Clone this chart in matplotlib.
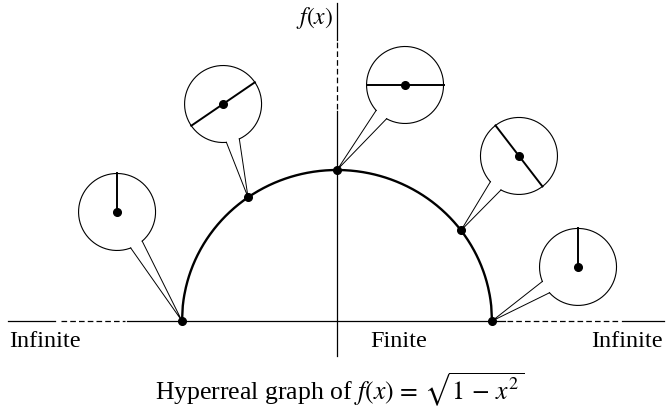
import numpy as np
import matplotlib
matplotlib.use("Agg")
import matplotlib.pyplot as plt

plt.rcParams["font.family"] = ["Liberation Serif", "DejaVu Serif"]
plt.rcParams["mathtext.fontset"] = "stix"

# marked points on the curve f(x) = sqrt(1 - x^2)
marked_x = [-1.0, -0.574, 0.0, 0.8, 1.0]
# where each magnifier bubble sits (data units)
bubble_x = [-1.419, -0.735, 0.439, 1.174, 1.555]
bubble_y = [0.722, 1.437, 1.563, 1.093, 0.358]
axis_labels = ["Infinite", "Finite", "Infinite"]
caption = r"Hyperreal graph of $f(x)\,=\,\sqrt{1\,-\,x^2}$"

# pixel scale of one data unit (x and y)
sx, sy = 155.0, 151.0
bubble_r = 38.5  # pixels
gap = np.radians(10)

fig = plt.figure(figsize=(6.66, 4.14), dpi=100)
ax = fig.add_axes([0, 0, 1, 1])
ax.set_xlim(-337 / sx, (666 - 337) / sx)
ax.set_ylim((322 - 414) / sy, 322 / sy)
ax.axis("off")

# horizontal axis: solid / dashed / solid pieces
axk = dict(color="black", lw=0.9)
dash = (0, (4.5, 2.5))
ax.plot([(8 - 337) / sx, (55 - 337) / sx], [0, 0], **axk)
ax.plot([(61 - 337) / sx, (125 - 337) / sx], [0, 0], ls=dash, **axk)
ax.plot([(127 - 337) / sx, (505 - 337) / sx], [0, 0], **axk)
ax.plot([(507 - 337) / sx, (620 - 337) / sx], [0, 0], ls=dash, **axk)
ax.plot([(622 - 337) / sx, (664 - 337) / sx], [0, 0], **axk)

# vertical axis
ax.plot([0, 0], [(322 - 357) / sy, (322 - 112) / sy], **axk)
ax.plot([0, 0], [(322 - 110) / sy, (322 - 43) / sy], ls=dash, **axk)
ax.plot([0, 0], [(322 - 41) / sy, (322 - 4) / sy], **axk)

# the semicircle
xs = np.linspace(-1, 1, 400)
ax.plot(xs, np.sqrt(1 - xs ** 2), color="black", lw=1.7, solid_capstyle="butt")

for mx, bx, by in zip(marked_x, bubble_x, bubble_y):
    my = np.sqrt(max(1 - mx ** 2, 0.0))
    ax.plot(mx, my, "o", color="black", ms=5.5)

    # work in pixel space (y up)
    cx, cy = bx * sx, by * sy
    tx, ty = mx * sx, my * sy
    ang = np.arctan2(ty - cy, tx - cx)
    t = np.linspace(ang + gap, ang + 2 * np.pi - gap, 200)
    arc_x = cx + bubble_r * np.cos(t)
    arc_y = cy + bubble_r * np.sin(t)
    ax.plot(arc_x / sx, arc_y / sy, color="black", lw=0.8)
    ax.plot([arc_x[0] / sx, mx, arc_x[-1] / sx],
            [arc_y[0] / sy, my, arc_y[-1] / sy], color="black", lw=0.7)

    # magnified tangent inside bubble
    if abs(mx) >= 1:
        lx = [cx, cx]
        ly = [cy, cy + bubble_r]
    else:
        slope = -mx / my
        th = np.arctan2(slope * sy, sx)
        lx = [cx - bubble_r * np.cos(th), cx + bubble_r * np.cos(th)]
        ly = [cy - bubble_r * np.sin(th), cy + bubble_r * np.sin(th)]
    ax.plot(np.array(lx) / sx, np.array(ly) / sy, color="black", lw=1.4)
    ax.plot(bx, by, "o", color="black", ms=5.5)

lab_y = (322 - 342) / sy
ax.text((9 - 337) / sx, lab_y, axis_labels[0], ha="left", va="center", fontsize=17.5)
ax.text((399 - 337) / sx, lab_y, axis_labels[1], ha="center", va="center", fontsize=17.5)
ax.text((663 - 337) / sx, lab_y, axis_labels[2], ha="right", va="center", fontsize=17.5)
ax.text((333 - 337) / sx, (322 - 18) / sy, r"$f(x)$", ha="right", va="center", fontsize=17)
ax.text((340 - 337) / sx, (322 - 390) / sy, caption, ha="center", va="center", fontsize=18.5)

fig.savefig("out.png", dpi=100)
